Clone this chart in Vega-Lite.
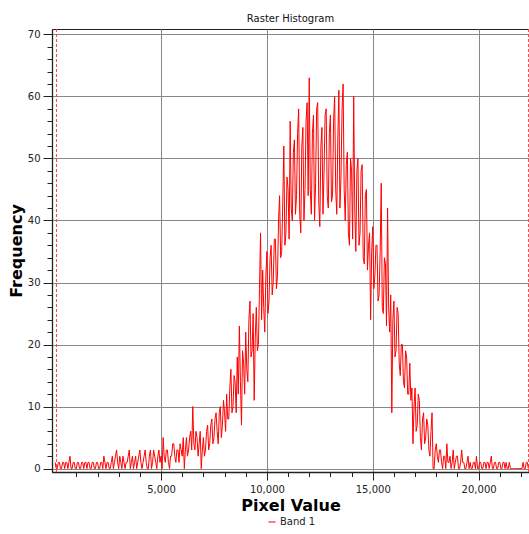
{
  "$schema": "https://vega.github.io/schema/vega-lite/v6.json",
  "autosize": "none",
  "padding": {"left": 52, "top": 29, "right": 0, "bottom": 63},
  "width": 477,
  "height": 443,
  "title": {"text": "Raster Histogram", "font": "DejaVu Sans", "fontSize": 10, "fontWeight": "normal", "color": "#111", "anchor": "middle", "offset": 5},
  "config": {
    "view": {"stroke": "#222", "strokeWidth": 1},
    "axis": {"labelFont": "DejaVu Sans", "labelFontSize": 10, "labelColor": "#222", "titleFont": "DejaVu Sans", "titleFontSize": 16, "titleFontWeight": "bold", "titleColor": "#000", "domainColor": "#222", "domainWidth": 1.3, "tickColor": "#222", "gridColor": "#888", "gridWidth": 1}
  },
  "resolve": {"axis": {"x": "independent"}},
  "datasets": {
    "hist": [
      {"v":0,"f":1},{"v":50,"f":0},{"v":100,"f":0},{"v":150,"f":1},{"v":200,"f":1},{"v":250,"f":0},{"v":300,"f":0},{"v":350,"f":1},{"v":400,"f":1},{"v":450,"f":0},
      {"v":500,"f":1},{"v":550,"f":1},{"v":600,"f":0},{"v":650,"f":1},{"v":700,"f":2},{"v":750,"f":0},{"v":800,"f":0},{"v":850,"f":1},{"v":900,"f":1},{"v":950,"f":0},
      {"v":1000,"f":0},{"v":1050,"f":1},{"v":1100,"f":1},{"v":1150,"f":0},{"v":1200,"f":0},{"v":1250,"f":1},{"v":1300,"f":1},{"v":1350,"f":0},{"v":1400,"f":1},{"v":1450,"f":1},
      {"v":1500,"f":0},{"v":1550,"f":1},{"v":1600,"f":1},{"v":1650,"f":0},{"v":1700,"f":0},{"v":1750,"f":1},{"v":1800,"f":1},{"v":1850,"f":0},{"v":1900,"f":0},{"v":1950,"f":1},
      {"v":2000,"f":1},{"v":2050,"f":0},{"v":2100,"f":0},{"v":2150,"f":1},{"v":2200,"f":1},{"v":2250,"f":0},{"v":2300,"f":2},{"v":2350,"f":1},{"v":2400,"f":0},{"v":2450,"f":1},
      {"v":2500,"f":1},{"v":2550,"f":0},{"v":2600,"f":0},{"v":2650,"f":1},{"v":2700,"f":2},{"v":2750,"f":0},{"v":2800,"f":1},{"v":2850,"f":2},{"v":2900,"f":3},{"v":2950,"f":1},
      {"v":3000,"f":0},{"v":3050,"f":2},{"v":3100,"f":1},{"v":3150,"f":0},{"v":3200,"f":2},{"v":3250,"f":1},{"v":3300,"f":0},{"v":3350,"f":1},{"v":3400,"f":1},{"v":3450,"f":2},
      {"v":3500,"f":3},{"v":3550,"f":0},{"v":3600,"f":1},{"v":3650,"f":2},{"v":3700,"f":0},{"v":3750,"f":1},{"v":3800,"f":2},{"v":3850,"f":0},{"v":3900,"f":1},{"v":3950,"f":2},
      {"v":4000,"f":3},{"v":4050,"f":1},{"v":4100,"f":0},{"v":4150,"f":1},{"v":4200,"f":2},{"v":4250,"f":3},{"v":4300,"f":1},{"v":4350,"f":0},{"v":4400,"f":0},{"v":4450,"f":2},
      {"v":4500,"f":3},{"v":4550,"f":0},{"v":4600,"f":1},{"v":4650,"f":3},{"v":4700,"f":2},{"v":4750,"f":1},{"v":4800,"f":0},{"v":4850,"f":2},{"v":4900,"f":3},{"v":4950,"f":1},
      {"v":5000,"f":2},{"v":5050,"f":0},{"v":5100,"f":5},{"v":5150,"f":2},{"v":5200,"f":1},{"v":5250,"f":3},{"v":5300,"f":3},{"v":5350,"f":1},{"v":5400,"f":0},{"v":5450,"f":2},
      {"v":5500,"f":2},{"v":5550,"f":4},{"v":5600,"f":4},{"v":5650,"f":2},{"v":5700,"f":1},{"v":5750,"f":3},{"v":5800,"f":3},{"v":5850,"f":1},{"v":5900,"f":4},{"v":5950,"f":3},
      {"v":6000,"f":2},{"v":6050,"f":5},{"v":6100,"f":0},{"v":6150,"f":3},{"v":6200,"f":5},{"v":6250,"f":2},{"v":6300,"f":3},{"v":6350,"f":5},{"v":6400,"f":6},{"v":6450,"f":3},
      {"v":6500,"f":10},{"v":6550,"f":4},{"v":6600,"f":3},{"v":6650,"f":6},{"v":6700,"f":5},{"v":6750,"f":2},{"v":6800,"f":4},{"v":6850,"f":6},{"v":6900,"f":0},{"v":6950,"f":3},
      {"v":7000,"f":5},{"v":7050,"f":2},{"v":7100,"f":3},{"v":7150,"f":6},{"v":7200,"f":7},{"v":7250,"f":3},{"v":7300,"f":4},{"v":7350,"f":7},{"v":7400,"f":8},{"v":7450,"f":4},
      {"v":7500,"f":5},{"v":7550,"f":8},{"v":7600,"f":9},{"v":7650,"f":6},{"v":7700,"f":4},{"v":7750,"f":9},{"v":7800,"f":10},{"v":7850,"f":5},{"v":7900,"f":7},{"v":7950,"f":11},
      {"v":8000,"f":9},{"v":8050,"f":6},{"v":8100,"f":12},{"v":8150,"f":8},{"v":8200,"f":8},{"v":8250,"f":13},{"v":8300,"f":16},{"v":8350,"f":9},{"v":8400,"f":10},{"v":8450,"f":15},
      {"v":8500,"f":14},{"v":8550,"f":9},{"v":8600,"f":18},{"v":8650,"f":12},{"v":8700,"f":23},{"v":8750,"f":14},{"v":8800,"f":7},{"v":8850,"f":19},{"v":8900,"f":17},{"v":8950,"f":12},
      {"v":9000,"f":22},{"v":9050,"f":16},{"v":9100,"f":14},{"v":9150,"f":24},{"v":9200,"f":27},{"v":9250,"f":18},{"v":9300,"f":19},{"v":9350,"f":25},{"v":9400,"f":11},{"v":9450,"f":21},
      {"v":9500,"f":26},{"v":9550,"f":19},{"v":9600,"f":20},{"v":9650,"f":29},{"v":9700,"f":38},{"v":9750,"f":24},{"v":9800,"f":32},{"v":9850,"f":26},{"v":9900,"f":22},{"v":9950,"f":31},
      {"v":10000,"f":35},{"v":10050,"f":25},{"v":10100,"f":27},{"v":10150,"f":34},{"v":10200,"f":36},{"v":10250,"f":28},{"v":10300,"f":30},{"v":10350,"f":37},{"v":10400,"f":37},{"v":10450,"f":29},
      {"v":10500,"f":31},{"v":10550,"f":40},{"v":10600,"f":44},{"v":10650,"f":34},{"v":10700,"f":35},{"v":10750,"f":43},{"v":10800,"f":52},{"v":10850,"f":36},{"v":10900,"f":38},{"v":10950,"f":47},
      {"v":11000,"f":45},{"v":11050,"f":37},{"v":11100,"f":56},{"v":11150,"f":42},{"v":11200,"f":40},{"v":11250,"f":51},{"v":11300,"f":53},{"v":11350,"f":41},{"v":11400,"f":44},{"v":11450,"f":54},
      {"v":11500,"f":58},{"v":11550,"f":41},{"v":11600,"f":38},{"v":11650,"f":52},{"v":11700,"f":55},{"v":11750,"f":40},{"v":11800,"f":45},{"v":11850,"f":56},{"v":11900,"f":59},{"v":11950,"f":44},
      {"v":12000,"f":63},{"v":12050,"f":45},{"v":12100,"f":41},{"v":12150,"f":54},{"v":12200,"f":57},{"v":12250,"f":40},{"v":12300,"f":46},{"v":12350,"f":58},{"v":12400,"f":59},{"v":12450,"f":43},
      {"v":12500,"f":39},{"v":12550,"f":52},{"v":12600,"f":55},{"v":12650,"f":41},{"v":12700,"f":48},{"v":12750,"f":57},{"v":12800,"f":58},{"v":12850,"f":44},{"v":12900,"f":42},{"v":12950,"f":54},
      {"v":13000,"f":57},{"v":13050,"f":43},{"v":13100,"f":44},{"v":13150,"f":56},{"v":13200,"f":60},{"v":13250,"f":45},{"v":13300,"f":41},{"v":13350,"f":53},{"v":13400,"f":61},{"v":13450,"f":42},
      {"v":13500,"f":47},{"v":13550,"f":58},{"v":13600,"f":62},{"v":13650,"f":45},{"v":13700,"f":40},{"v":13750,"f":49},{"v":13800,"f":51},{"v":13850,"f":38},{"v":13900,"f":36},{"v":13950,"f":50},
      {"v":14000,"f":48},{"v":14050,"f":37},{"v":14100,"f":60},{"v":14150,"f":42},{"v":14200,"f":35},{"v":14250,"f":48},{"v":14300,"f":50},{"v":14350,"f":36},{"v":14400,"f":38},{"v":14450,"f":48},
      {"v":14500,"f":49},{"v":14550,"f":34},{"v":14600,"f":33},{"v":14650,"f":44},{"v":14700,"f":45},{"v":14750,"f":32},{"v":14800,"f":36},{"v":14850,"f":38},{"v":14900,"f":24},{"v":14950,"f":35},
      {"v":15000,"f":39},{"v":15050,"f":29},{"v":15100,"f":31},{"v":15150,"f":36},{"v":15200,"f":36},{"v":15250,"f":27},{"v":15300,"f":28},{"v":15350,"f":35},{"v":15400,"f":46},{"v":15450,"f":26},
      {"v":15500,"f":25},{"v":15550,"f":34},{"v":15600,"f":33},{"v":15650,"f":23},{"v":15700,"f":42},{"v":15750,"f":26},{"v":15800,"f":22},{"v":15850,"f":28},{"v":15900,"f":9},{"v":15950,"f":24},
      {"v":16000,"f":27},{"v":16050,"f":18},{"v":16100,"f":19},{"v":16150,"f":26},{"v":16200,"f":25},{"v":16250,"f":17},{"v":16300,"f":15},{"v":16350,"f":20},{"v":16400,"f":20},{"v":16450,"f":14},
      {"v":16500,"f":13},{"v":16550,"f":19},{"v":16600,"f":18},{"v":16650,"f":12},{"v":16700,"f":12},{"v":16750,"f":17},{"v":16800,"f":11},{"v":16850,"f":13},{"v":16900,"f":4},{"v":16950,"f":10},
      {"v":17000,"f":13},{"v":17050,"f":6},{"v":17100,"f":7},{"v":17150,"f":12},{"v":17200,"f":11},{"v":17250,"f":5},{"v":17300,"f":3},{"v":17350,"f":8},{"v":17400,"f":9},{"v":17450,"f":4},
      {"v":17500,"f":5},{"v":17550,"f":8},{"v":17600,"f":7},{"v":17650,"f":3},{"v":17700,"f":2},{"v":17750,"f":6},{"v":17800,"f":9},{"v":17850,"f":0},{"v":17900,"f":0},{"v":17950,"f":3},
      {"v":18000,"f":4},{"v":18050,"f":2},{"v":18100,"f":1},{"v":18150,"f":3},{"v":18200,"f":3},{"v":18250,"f":1},{"v":18300,"f":0},{"v":18350,"f":2},{"v":18400,"f":2},{"v":18450,"f":0},
      {"v":18500,"f":4},{"v":18550,"f":1},{"v":18600,"f":1},{"v":18650,"f":2},{"v":18700,"f":0},{"v":18750,"f":1},{"v":18800,"f":3},{"v":18850,"f":0},{"v":18900,"f":1},{"v":18950,"f":2},
      {"v":19000,"f":2},{"v":19050,"f":0},{"v":19100,"f":0},{"v":19150,"f":1},{"v":19200,"f":3},{"v":19250,"f":1},{"v":19300,"f":1},{"v":19350,"f":0},{"v":19400,"f":0},{"v":19450,"f":1},
      {"v":19500,"f":2},{"v":19550,"f":0},{"v":19600,"f":1},{"v":19650,"f":0},{"v":19700,"f":0},{"v":19750,"f":1},{"v":19800,"f":1},{"v":19850,"f":0},{"v":19900,"f":2},{"v":19950,"f":0},
      {"v":20000,"f":0},{"v":20050,"f":1},{"v":20100,"f":1},{"v":20150,"f":0},{"v":20200,"f":0},{"v":20250,"f":1},{"v":20300,"f":1},{"v":20350,"f":0},{"v":20400,"f":1},{"v":20450,"f":1},
      {"v":20500,"f":0},{"v":20550,"f":1},{"v":20600,"f":2},{"v":20650,"f":0},{"v":20700,"f":0},{"v":20750,"f":1},{"v":20800,"f":1},{"v":20850,"f":0},{"v":20900,"f":0},{"v":20950,"f":1},
      {"v":21000,"f":1},{"v":21050,"f":0},{"v":21100,"f":0},{"v":21150,"f":1},{"v":21200,"f":1},{"v":21250,"f":0},{"v":21300,"f":1},{"v":21350,"f":0},{"v":21400,"f":0},{"v":21450,"f":1},
      {"v":21500,"f":0},{"v":21550,"f":0},{"v":21600,"f":0},{"v":21650,"f":0},{"v":21700,"f":0},{"v":21750,"f":0},{"v":21800,"f":0},{"v":21850,"f":0},{"v":21900,"f":0},{"v":21950,"f":0},
      {"v":22000,"f":0},{"v":22050,"f":0},{"v":22100,"f":1},{"v":22150,"f":0},{"v":22200,"f":0},{"v":22250,"f":1},{"v":22300,"f":1},{"v":22350,"f":0}
    ],
    "limits": [{"v": 60}, {"v": 22360}]
  },
  "layer": [
    {
      "data": {"name": "limits"},
      "mark": {"type": "rule", "color": "#ff4040", "strokeDash": [3, 2], "strokeWidth": 1},
      "encoding": {
        "x": {
          "field": "v", "type": "quantitative",
          "scale": {"domain": [-150, 22380], "nice": false, "zero": false},
          "axis": {
            "orient": "bottom",
            "title": null,
            "values": [1000,2000,3000,4000,6000,7000,8000,9000,11000,12000,13000,14000,16000,17000,18000,19000,21000,22000],
            "labels": false,
            "grid": false,
            "domain": false,
            "tickSize": 4.5
          }
        }
      }
    },
    {
      "data": {"name": "hist"},
      "mark": {"type": "line", "strokeWidth": 1, "clip": true},
      "encoding": {
        "x": {
          "field": "v", "type": "quantitative",
          "scale": {"domain": [-150, 22380], "nice": false, "zero": false},
          "axis": {
            "orient": "bottom",
            "title": "Pixel Value",
            "values": [5000, 10000, 15000, 20000],
            "format": ",d",
            "grid": true,
            "gridColor": "#888",
            "labelOverlap": false,
            "tickSize": 8,
            "labelPadding": 4,
            "titlePadding": 3
          }
        },
        "y": {
          "field": "f", "type": "quantitative",
          "scale": {"domain": [-0.55, 70.87], "nice": false, "zero": false},
          "axis": {
            "title": "Frequency",
            "values": [0,2,4,6,8,10,12,14,16,18,20,22,24,26,28,30,32,34,36,38,40,42,44,46,48,50,52,54,56,58,60,62,64,66,68,70],
            "labelOverlap": false,
            "labelExpr": "datum.value % 10 === 0 ? datum.label : ''",
            "tickSize": {"condition": {"test": "datum.value % 10 === 0", "value": 9}, "value": 5},
            "gridOpacity": {"condition": {"test": "datum.value % 10 === 0", "value": 1}, "value": 0},
            "labelPadding": 3,
            "titlePadding": 3
          }
        },
        "color": {
          "datum": "Band 1",
          "type": "nominal",
          "scale": {"range": ["#ff0000"]},
          "legend": {
            "title": null,
            "orient": "none",
            "legendX": 215,
            "legendY": 488,
            "symbolType": "stroke",
            "symbolSize": 50,
            "symbolStrokeWidth": 1,
            "labelFont": "DejaVu Sans",
            "labelFontSize": 10,
            "labelColor": "#222",
            "labelOffset": 3
          }
        }
      }
    }
  ]
}
